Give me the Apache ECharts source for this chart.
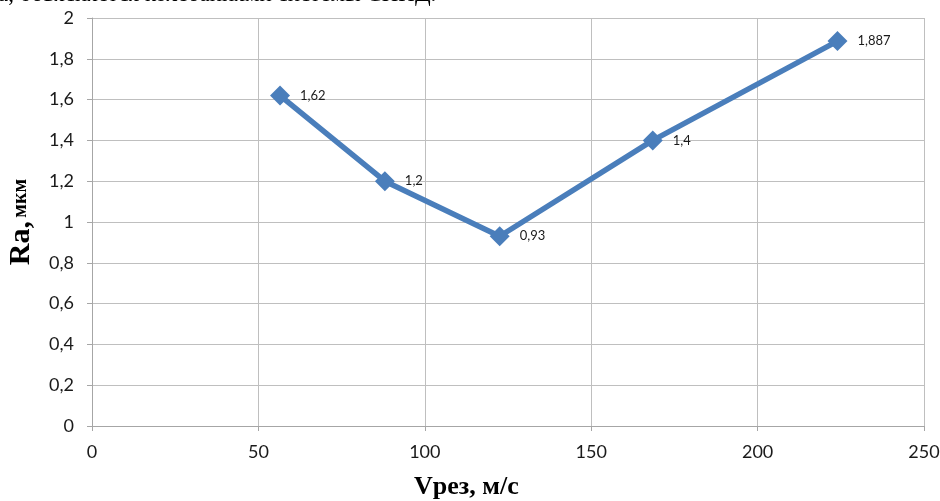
<!DOCTYPE html>
<html>
<head>
<meta charset="utf-8">
<script src="https://cdn.jsdelivr.net/npm/echarts@6/dist/echarts.min.js"></script>
<style>
  html, body { margin: 0; padding: 0; background: #fff; }
  #chart { width: 940px; height: 501px; }
</style>
</head>
<body>
<div id="chart"></div>
<script>
// Cutting speed (m/s) vs. surface roughness Ra (µm)
const speeds = [56.5, 88, 122.5, 168.5, 224];
const roughness = [1.62, 1.2, 0.93, 1.4, 1.887];
const xTicks = [0, 50, 100, 150, 200, 250];
const yTicks = [0, 0.2, 0.4, 0.6, 0.8, 1, 1.2, 1.4, 1.6, 1.8, 2];

const comma = v => String(v).replace('.', ',');
const points = speeds.map((s, i) => [s, roughness[i]]);

const chart = echarts.init(document.getElementById('chart'), null, { renderer: 'canvas' });
chart.setOption({
  animation: false,
  backgroundColor: '#ffffff',
  grid: { left: 92, right: 16, top: 18, bottom: 75, containLabel: false, outerBoundsMode: 'none' },
  xAxis: {
    type: 'value',
    min: xTicks[0],
    max: xTicks[xTicks.length - 1],
    interval: 50,
    axisLine: { show: true, onZero: false, lineStyle: { color: '#a6a6a6', width: 1 } },
    axisTick: { show: true, length: 5, lineStyle: { color: '#a6a6a6' } },
    splitLine: { show: true, lineStyle: { color: '#bfbfbf', width: 1 } },
    axisLabel: { color: '#1a1a1a', fontSize: 18, fontFamily: 'Lato', margin: 17, formatter: comma }
  },
  yAxis: {
    type: 'value',
    min: yTicks[0],
    max: yTicks[yTicks.length - 1],
    interval: 0.2,
    axisLine: { show: true, lineStyle: { color: '#a6a6a6', width: 1 } },
    axisTick: { show: true, length: 5, lineStyle: { color: '#a6a6a6' } },
    splitLine: { show: true, lineStyle: { color: '#bfbfbf', width: 1 } },
    axisLabel: { color: '#1a1a1a', fontSize: 18, fontFamily: 'Lato', margin: 18,
      formatter: v => comma(Math.round(v * 10) / 10) },
    name: '{a|Ra,} {b|мкм}',
    nameLocation: 'middle',
    nameRotate: 90,
    nameGap: 56,
    nameTextStyle: {
      rich: {
        a: { fontFamily: 'Liberation Serif', fontWeight: 'bold', fontSize: 30, color: '#000' },
        b: { fontFamily: 'Liberation Serif', fontWeight: 'bold', fontSize: 20, color: '#000' }
      }
    }
  },
  graphic: [
    {
      type: 'text',
      left: 414,
      top: 474,
      style: { text: 'Vрез, м/с', font: 'bold 26px "Liberation Serif"', fill: '#000' }
    },
    {
      type: 'text',
      left: -2,
      top: -17,
      style: { text: 'а, объясняется колебаниями системы СПИД.', font: '23px "Liberation Serif"', fill: '#000' }
    }
  ],
  series: [{
    type: 'line',
    data: points,
    symbol: 'diamond',
    symbolSize: 20,
    lineStyle: { color: '#4a7ebb', width: 5.5 },
    itemStyle: { color: '#4a7ebb' },
    label: {
      show: true,
      position: 'right',
      distance: 10,
      fontSize: 13,
      fontFamily: 'Lato',
      color: '#1a1a1a',
      formatter: p => comma(p.value[1])
    }
  }]
});
</script>
</body>
</html>
